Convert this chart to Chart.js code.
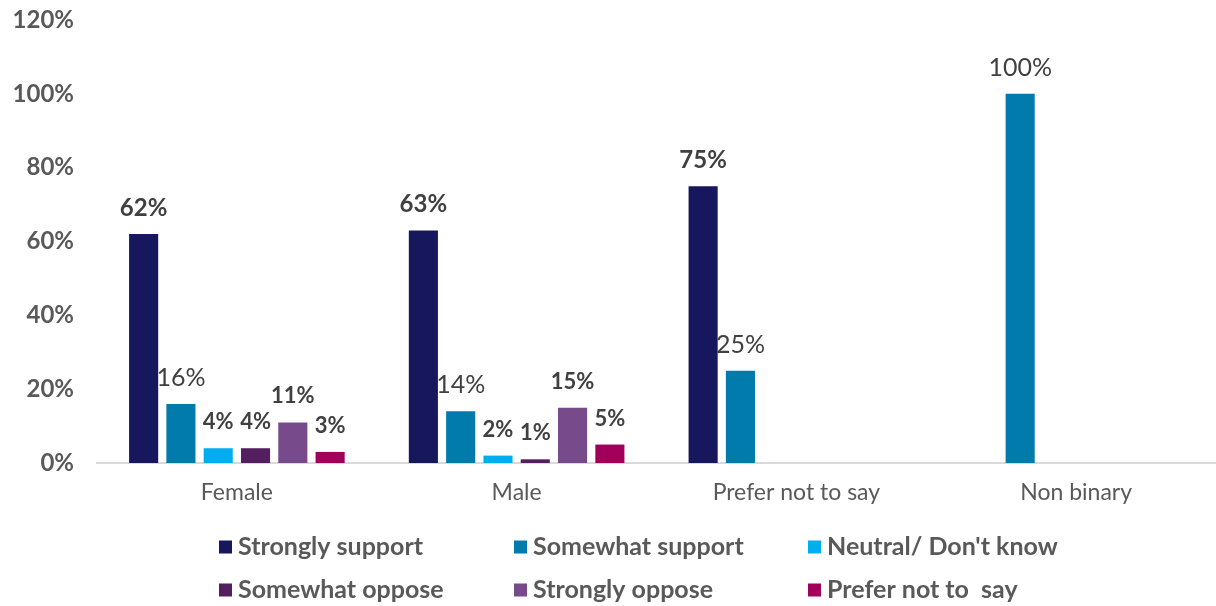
<!DOCTYPE html>
<html>
<head>
<meta charset="utf-8">
<script src="https://cdn.jsdelivr.net/npm/chart.js@4/dist/chart.umd.min.js"></script>
<style>
  html, body { margin: 0; padding: 0; background: #ffffff; }
  #wrap { width: 1216px; height: 606px; position: relative; }
</style>
</head>
<body>
<div id="wrap"><canvas id="chart" width="1216" height="606"></canvas></div>
<script>
// Respondent groups along the x axis
const categories = ['Female', 'Male', 'Prefer not to say', 'Non binary'];

// Share of each group giving each answer (%)
const strongly_support   = [62, 63, 75, null];
const somewhat_support   = [16, 14, 25, 100];
const neutral_dont_know  = [4, 2, null, null];
const somewhat_oppose    = [4, 1, null, null];
const strongly_oppose    = [11, 15, null, null];
const prefer_not_to_say  = [3, 5, null, null];

const seriesNames = ['Strongly support', 'Somewhat support', 'Neutral/ Don\'t know',
                     'Somewhat oppose', 'Strongly oppose', 'Prefer not to  say'];

// Y axis ticks (%)
const yTicks = [0, 20, 40, 60, 80, 100, 120];

const FONT = 'Lato, "Noto Sans", sans-serif';
const GREY = '#595959';
const LABEL_GREY = '#404040';

const colors = ['#17175E', '#007BAB', '#00AEEF', '#531F5F', '#764A8B', '#A0005A'];
const seriesValues = [strongly_support, somewhat_support, neutral_dont_know,
                      somewhat_oppose, strongly_oppose, prefer_not_to_say];

// Value label styles per series
const labelFonts = [
  { weight: 'bold', size: 24 },
  { weight: 'normal', size: 25 },
  { weight: 'bold', size: 22 },
  { weight: 'bold', size: 22 },
  { weight: 'bold', size: 22 },
  { weight: 'bold', size: 22 }
];

const valueLabels = {
  id: 'valueLabels',
  afterDatasetsDraw(chart) {
    const ctx = chart.ctx;
    ctx.save();
    ctx.textAlign = 'center';
    ctx.textBaseline = 'middle';
    ctx.fillStyle = LABEL_GREY;
    chart.data.datasets.forEach((ds, di) => {
      const meta = chart.getDatasetMeta(di);
      const f = labelFonts[di];
      ctx.font = f.weight + ' ' + f.size + 'px ' + FONT;
      meta.data.forEach((bar, i) => {
        const v = ds.data[i];
        if (v === null || v === undefined) return;
        ctx.fillText(Math.round(v) + '%', bar.x, bar.y - 26);
      });
    });
    ctx.restore();
  }
};

// Legend laid out as a fixed 3-column grid under the axis
const gridLegend = {
  id: 'gridLegend',
  afterDraw(chart) {
    const ctx = chart.ctx;
    const colX = [219, 514, 808];
    const rowY = [547, 590];
    const box = 13;
    ctx.save();
    ctx.font = 'bold 25px ' + FONT;
    ctx.textBaseline = 'middle';
    ctx.textAlign = 'left';
    chart.data.datasets.forEach((ds, i) => {
      const x = colX[i % 3];
      const y = rowY[Math.floor(i / 3)];
      ctx.fillStyle = ds.backgroundColor;
      ctx.fillRect(x, y - box / 2, box, box);
      ctx.fillStyle = GREY;
      ctx.fillText(ds.label, x + box + 6, y);
    });
    ctx.restore();
  }
};

new Chart(document.getElementById('chart'), {
  type: 'bar',
  data: {
    labels: categories,
    datasets: seriesValues.map((vals, i) => ({
      label: seriesNames[i],
      data: vals,
      backgroundColor: colors[i],
      borderWidth: 0,
      categoryPercentage: 0.8,
      barPercentage: 0.78
    }))
  },
  options: {
    responsive: false,
    animation: false,
    layout: { padding: { top: 20, right: 0, bottom: 83, left: 0 } },
    plugins: {
      legend: { display: false },
      tooltip: { enabled: false }
    },
    scales: {
      x: {
        grid: { display: false, drawTicks: false },
        border: { display: true, color: '#D9D9D9', width: 2 },
        ticks: {
          color: GREY,
          font: { family: FONT, size: 23 },
          padding: 16,
          maxRotation: 0
        },
        afterFit(scale) { scale.height = 60; scale.paddingLeft = 0; scale.paddingRight = 0; }
      },
      y: {
        min: 0,
        max: 120,
        grid: { display: false, drawTicks: false },
        border: { display: false },
        afterBuildTicks(scale) { scale.ticks = yTicks.map(v => ({ value: v })); },
        ticks: {
          color: GREY,
          font: { family: FONT, size: 24, weight: 'bold' },
          padding: 23,
          callback: v => v + '%'
        },
        afterFit(scale) {
          scale.width = 97;
          scale.paddingTop = 0;
          scale.paddingBottom = 0;
        }
      }
    }
  },
  plugins: [valueLabels, gridLegend]
});
</script>
</body>
</html>
